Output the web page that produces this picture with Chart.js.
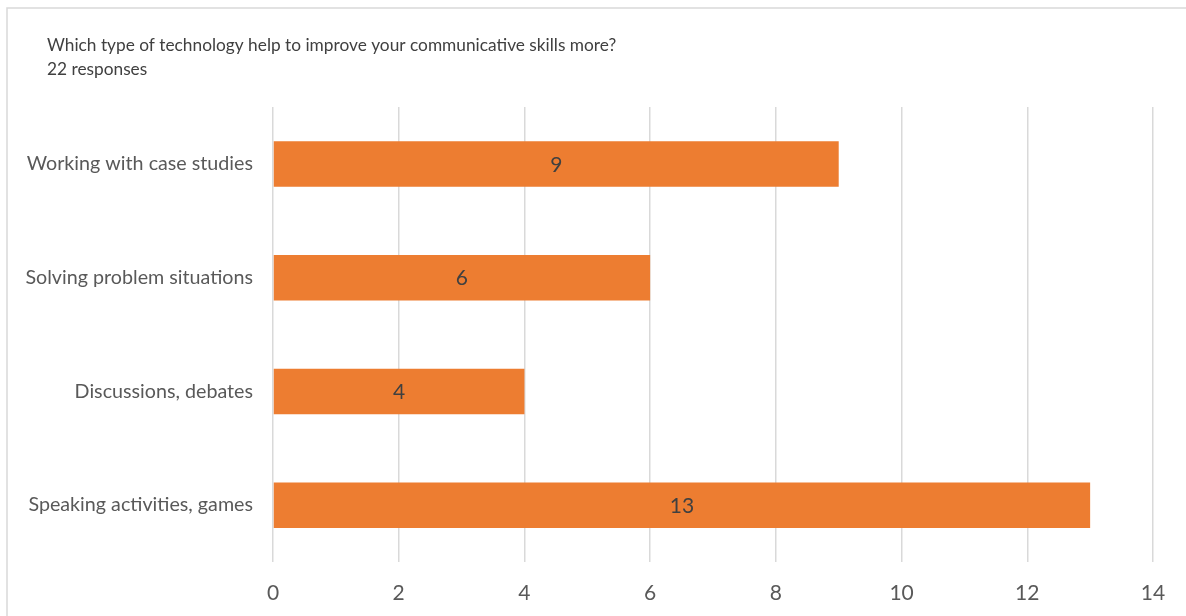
<!DOCTYPE html>
<html>
<head>
<meta charset="utf-8">
<script src="https://cdn.jsdelivr.net/npm/chart.js@4"></script>
<style>
  html, body { margin: 0; padding: 0; background: #fff; }
  #wrap { width: 1186px; height: 616px; }
</style>
</head>
<body>
<div id="wrap"><canvas id="chart"></canvas></div>
<script>
// data
const categories = [
    'Working with case studies',
    'Solving problem situations',
    'Discussions, debates',
    'Speaking activities, games'
];
const responses = [9, 6, 4, 13];
const titleLines = [
    'Which type of technology help to improve your communicative skills more?',
    '22 responses'
];
const xMin = 0, xMax = 14, xStep = 2;

const FONT = 'Lato';

// light frame round the chart and the two title lines, like the original screenshot
const framePlugin = {
    id: 'frame',
    beforeDraw: (chart) => {
        const ctx = chart.ctx;
        ctx.save();
        ctx.fillStyle = '#fff';
        ctx.fillRect(0, 0, chart.width, chart.height);
        ctx.strokeStyle = '#d9d9d9';
        ctx.lineWidth = 1.5;
        ctx.strokeRect(7, 8, chart.width + 20, chart.height + 20);

        ctx.font = '17.3px ' + FONT;
        ctx.fillStyle = '#404040';
        ctx.textAlign = 'left';
        ctx.textBaseline = 'middle';
        titleLines.forEach((line, i) => {
            ctx.fillText(line, 47, 45 + i * 24);
        });
        ctx.restore();
    }
};

// value printed in the middle of each bar
const centerLabels = {
    id: 'centerLabels',
    afterDatasetsDraw: (chart) => {
        const ctx = chart.ctx;
        const meta = chart.getDatasetMeta(0);
        ctx.save();
        ctx.font = '21px ' + FONT;
        ctx.fillStyle = '#404040';
        ctx.textAlign = 'center';
        ctx.textBaseline = 'middle';
        meta.data.forEach((bar, i) => {
            const mid = (bar.x + bar.base) / 2;
            ctx.fillText(String(responses[i]), mid, bar.y + 1);
        });
        ctx.restore();
    }
};

const ctx = document.getElementById('chart').getContext('2d');
const chart = new Chart(ctx, {
    type: 'bar',
    data: {
        labels: categories,
        datasets: [{
            data: responses,
            backgroundColor: '#ED7D31',
            borderWidth: 0,
            categoryPercentage: 1,
            barPercentage: 0.4
        }]
    },
    options: {
        indexAxis: 'y',
        responsive: true,
        maintainAspectRatio: false,
        animation: false,
        layout: { padding: { left: 13, right: 33, top: 107, bottom: 0 } },
        plugins: {
            legend: { display: false },
            tooltip: { enabled: false },
            title: { display: false }
        },
        scales: {
            x: {
                min: xMin,
                max: xMax,
                ticks: {
                    stepSize: xStep,
                    color: '#595959',
                    font: { family: FONT, size: 21 },
                    padding: 19
                },
                grid: { color: '#d9d9d9', lineWidth: 1.5, drawTicks: false },
                border: { display: false },
                afterFit: (scale) => { scale.height = 54; }
            },
            y: {
                ticks: {
                    color: '#595959',
                    font: { family: FONT, size: 19.7 },
                    padding: 20
                },
                grid: { display: false, drawTicks: false },
                border: { display: false },
                afterFit: (scale) => { scale.width = 260; }
            }
        }
    },
    plugins: [framePlugin, centerLabels]
});
</script>
</body>
</html>
